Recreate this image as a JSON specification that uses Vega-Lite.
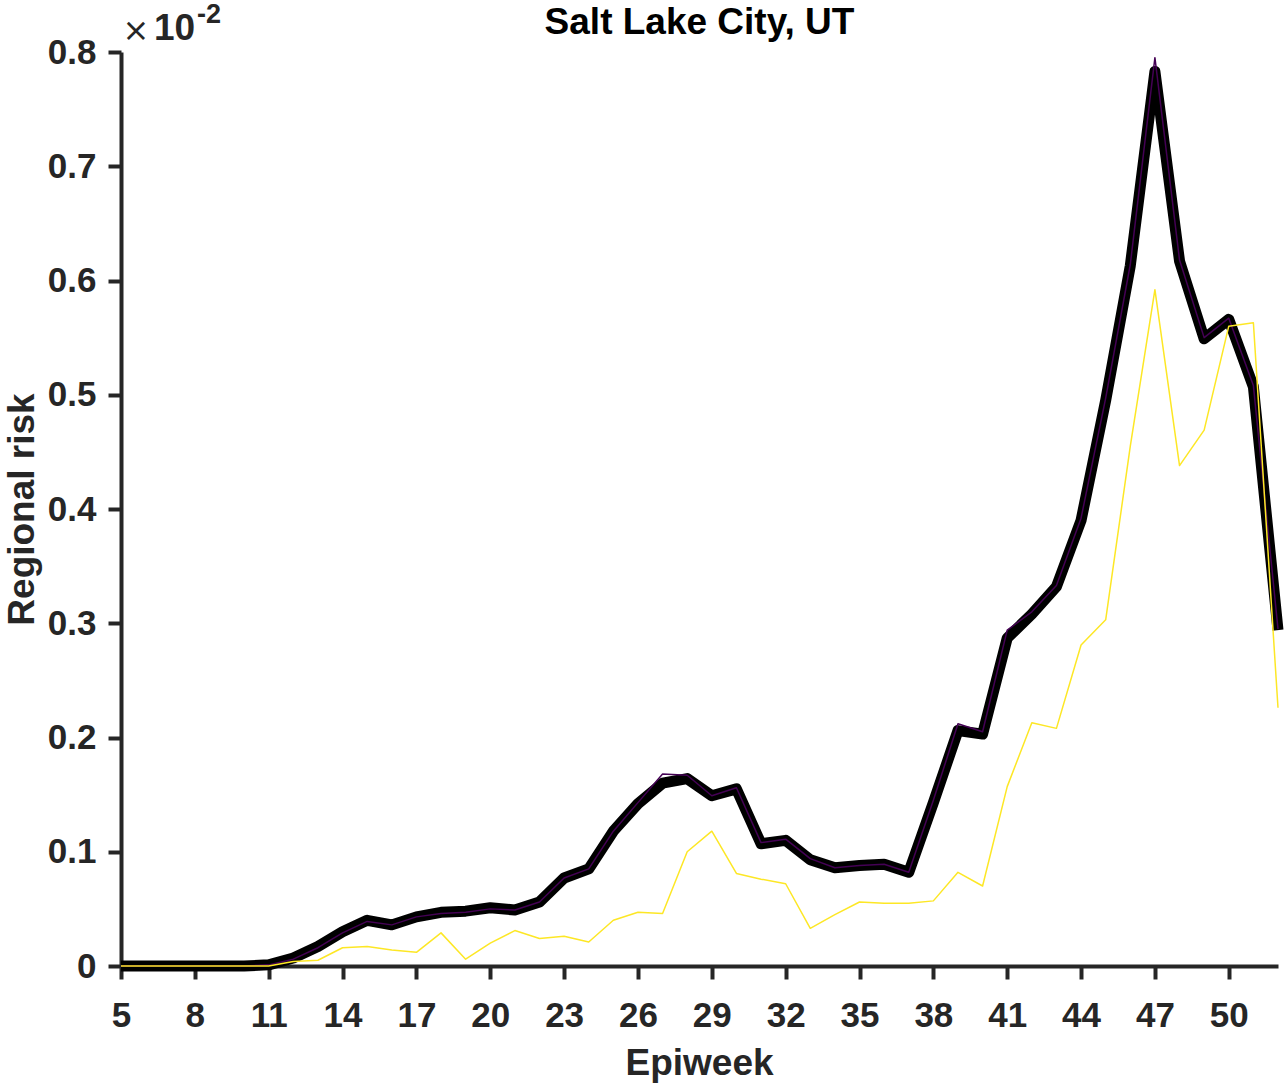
{
  "$schema": "https://vega.github.io/schema/vega-lite/v6.json",
  "autosize": "none",
  "width": 1157,
  "height": 914,
  "padding": {"left": 121, "top": 52, "right": 10, "bottom": 120},
  "background": "white",
  "config": {"view": {"stroke": null}, "font": "Liberation Sans"},
  "datasets": {
    "risk": [
      {"w":5,"mean":0,"p":0,"y":0},
      {"w":6,"mean":0,"p":0,"y":0},
      {"w":7,"mean":0,"p":0,"y":0},
      {"w":8,"mean":0,"p":0,"y":0},
      {"w":9,"mean":0,"p":0,"y":0},
      {"w":10,"mean":0,"p":0,"y":0},
      {"w":11,"mean":0.001,"p":0.001,"y":0},
      {"w":12,"mean":0.007,"p":0.006,"y":0.004},
      {"w":13,"mean":0.017,"p":0.016,"y":0.005},
      {"w":14,"mean":0.030,"p":0.029,"y":0.016},
      {"w":15,"mean":0.040,"p":0.039,"y":0.017},
      {"w":16,"mean":0.036,"p":0.036,"y":0.014},
      {"w":17,"mean":0.043,"p":0.043,"y":0.012},
      {"w":18,"mean":0.047,"p":0.046,"y":0.029},
      {"w":19,"mean":0.048,"p":0.047,"y":0.006},
      {"w":20,"mean":0.051,"p":0.050,"y":0.020},
      {"w":21,"mean":0.049,"p":0.049,"y":0.031},
      {"w":22,"mean":0.056,"p":0.056,"y":0.024},
      {"w":23,"mean":0.077,"p":0.077,"y":0.026},
      {"w":24,"mean":0.085,"p":0.085,"y":0.021},
      {"w":25,"mean":0.118,"p":0.118,"y":0.040},
      {"w":26,"mean":0.142,"p":0.143,"y":0.047},
      {"w":27,"mean":0.160,"p":0.168,"y":0.046},
      {"w":28,"mean":0.164,"p":0.167,"y":0.100},
      {"w":29,"mean":0.149,"p":0.149,"y":0.118},
      {"w":30,"mean":0.155,"p":0.156,"y":0.081},
      {"w":31,"mean":0.107,"p":0.108,"y":0.076},
      {"w":32,"mean":0.110,"p":0.111,"y":0.072},
      {"w":33,"mean":0.093,"p":0.094,"y":0.033},
      {"w":34,"mean":0.086,"p":0.086,"y":0.045},
      {"w":35,"mean":0.088,"p":0.088,"y":0.056},
      {"w":36,"mean":0.089,"p":0.089,"y":0.055},
      {"w":37,"mean":0.082,"p":0.082,"y":0.055},
      {"w":38,"mean":0.143,"p":0.145,"y":0.057},
      {"w":39,"mean":0.206,"p":0.212,"y":0.082},
      {"w":40,"mean":0.203,"p":0.205,"y":0.070},
      {"w":41,"mean":0.287,"p":0.294,"y":0.157},
      {"w":42,"mean":0.308,"p":0.310,"y":0.213},
      {"w":43,"mean":0.332,"p":0.333,"y":0.208},
      {"w":44,"mean":0.390,"p":0.392,"y":0.281},
      {"w":45,"mean":0.495,"p":0.497,"y":0.303},
      {"w":46,"mean":0.613,"p":0.614,"y":0.455},
      {"w":47,"mean":0.783,"p":0.795,"y":0.592},
      {"w":48,"mean":0.617,"p":0.618,"y":0.438},
      {"w":49,"mean":0.549,"p":0.550,"y":0.469},
      {"w":50,"mean":0.566,"p":0.567,"y":0.560},
      {"w":51,"mean":0.507,"p":0.508,"y":0.563},
      {"w":52,"mean":0.294,"p":0.295,"y":0.226}
    ],
    "labels": [
      {"label": "Salt Lake City, UT", "w": 28.5, "v": 0.8}
    ]
  },
  "layer": [
    {"data": {"name": "risk"},
     "mark": {"type": "line", "color": "black", "strokeWidth": 11, "strokeJoin": "round", "strokeCap": "butt"},
     "encoding": {
       "x": {"field": "w", "type": "quantitative",
        "scale": {"domain": [5, 52], "nice": false, "zero": false},
        "axis": {"title": "Epiweek", "values": [5,8,11,14,17,20,23,26,29,32,35,38,41,44,47,50],
          "grid": false, "domainColor": "#262626", "domainWidth": 4, "tickColor": "#262626", "tickWidth": 4, "tickSize": 13,
          "labelFont": "Liberation Sans", "labelFontSize": 35, "labelFontWeight": "bold", "labelColor": "#262626",
          "labelBaseline": "alphabetic", "labelPadding": 47, "labelFlush": false,
          "titleFont": "Liberation Sans", "titleFontSize": 37, "titleFontWeight": "bold", "titleColor": "#262626",
          "titleBaseline": "alphabetic", "titleY": 108, "titleX": 578}},
       "y": {"field": "mean", "type": "quantitative",
       "scale": {"domain": [0, 0.8], "nice": false},
       "axis": {"title": "Regional risk", "values": [0,0.1,0.2,0.3,0.4,0.5,0.6,0.7,0.8],
         "labelExpr": "datum.value == 0 ? '0' : format(datum.value, '.1f')",
         "grid": false, "domainColor": "#262626", "domainWidth": 4, "tickColor": "#262626", "tickWidth": 4, "tickSize": 13,
         "labelFont": "Liberation Sans", "labelFontSize": 35, "labelFontWeight": "bold", "labelColor": "#262626",
         "labelPadding": 12, "labelFlush": false, "labelBaseline": "middle",
         "titleFont": "Liberation Sans", "titleFontSize": 37, "titleFontWeight": "bold", "titleColor": "#262626",
         "titleBaseline": "alphabetic", "titleX": -88, "titleY": 457}}}},
    {"data": {"name": "risk"},
     "mark": {"type": "line", "color": "#440154", "strokeWidth": 1.5, "strokeJoin": "round"},
     "encoding": {"x": {"field": "w", "type": "quantitative"}, "y": {"field": "p", "type": "quantitative"}}},
    {"data": {"name": "risk"},
     "mark": {"type": "line", "color": "#FDE725", "strokeWidth": 1.5, "strokeJoin": "round"},
     "encoding": {"x": {"field": "w", "type": "quantitative"}, "y": {"field": "y", "type": "quantitative"}}},
    {"data": {"name": "labels"},
     "mark": {"type": "text", "font": "Liberation Sans", "fontSize": 37, "fontWeight": "bold", "color": "black", "align": "center", "baseline": "alphabetic", "dy": -18},
     "encoding": {"x": {"field": "w", "type": "quantitative"}, "y": {"field": "v", "type": "quantitative"}, "text": {"field": "label"}}},
    {"data": {"name": "labels"},
     "mark": {"type": "text", "text": "×", "font": "DejaVu Sans", "fontSize": 32, "fontWeight": "normal", "color": "#262626", "align": "center", "baseline": "middle", "dx": 15, "dy": -21},
     "encoding": {"x": {"datum": 5}, "y": {"datum": 0.8}}},
    {"data": {"name": "labels"},
     "mark": {"type": "text", "text": "10", "font": "Liberation Sans", "fontSize": 37, "fontWeight": "bold", "color": "#262626", "align": "left", "baseline": "alphabetic", "dx": 33, "dy": -12},
     "encoding": {"x": {"datum": 5}, "y": {"datum": 0.8}}},
    {"data": {"name": "labels"},
     "mark": {"type": "text", "text": "-2", "font": "Liberation Sans", "fontSize": 27, "fontWeight": "bold", "color": "#262626", "align": "left", "baseline": "alphabetic", "dx": 76, "dy": -29},
     "encoding": {"x": {"datum": 5}, "y": {"datum": 0.8}}}
  ]
}
